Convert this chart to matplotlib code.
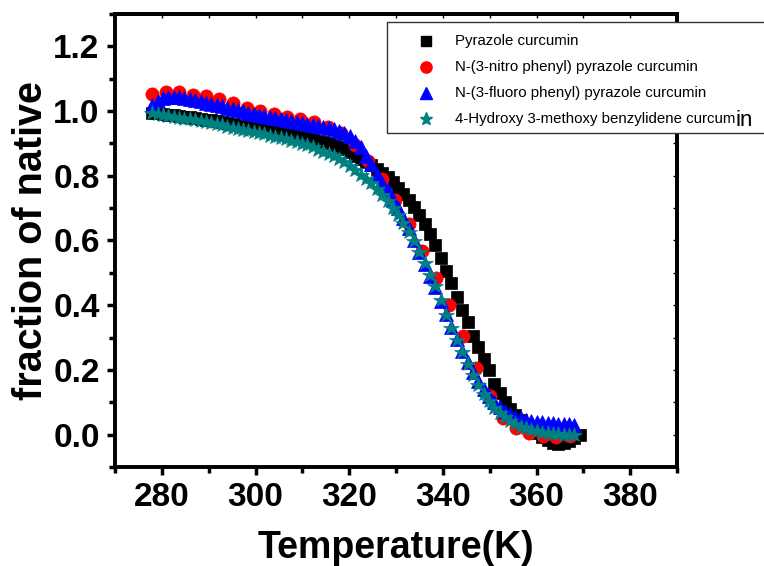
import matplotlib
matplotlib.use("Agg")
import matplotlib.pyplot as plt
from matplotlib.ticker import MultipleLocator, FormatStrFormatter
from matplotlib.patches import Rectangle
from matplotlib.lines import Line2D
from matplotlib import font_manager

names = {f.name for f in font_manager.fontManager.ttflist}
narrow = 'Liberation Sans Narrow' if 'Liberation Sans Narrow' in names else 'Liberation Sans'
plt.rcParams['font.family'] = [narrow, 'Liberation Sans', 'DejaVu Sans']

# temperature grid shared by the dense series (K)
temp = [278.0, 279.1, 280.3, 281.4, 282.6, 283.7, 284.8, 286.0, 287.1, 288.3,
        289.4, 290.5, 291.7, 292.8, 294.0, 295.1, 296.2, 297.4, 298.5, 299.7,
        300.8, 301.9, 303.1, 304.2, 305.4, 306.5, 307.6, 308.8, 309.9, 311.1,
        312.2, 313.3, 314.5, 315.6, 316.8, 317.9, 319.0, 320.2, 321.3, 322.5,
        323.6, 324.7, 325.9, 327.0, 328.2, 329.3, 330.4, 331.6, 332.7, 333.9,
        335.0, 336.1, 337.3, 338.4, 339.6, 340.7, 341.8, 343.0, 344.1, 345.3,
        346.4, 347.5, 348.7, 349.8, 351.0, 352.1, 353.2, 354.4, 355.5, 356.7,
        357.8, 358.9, 360.1, 361.2, 362.4, 363.5, 364.6, 365.8, 366.9, 368.1]
temp_black = temp + [369.2]

pyrazole = [0.995, 0.993, 0.991, 0.989, 0.987, 0.985, 0.983, 0.981, 0.978, 0.976,
            0.973, 0.971, 0.968, 0.965, 0.962, 0.959, 0.956, 0.953, 0.950, 0.947,
            0.944, 0.941, 0.938, 0.935, 0.932, 0.929, 0.926, 0.923, 0.920, 0.917,
            0.913, 0.909, 0.905, 0.901, 0.896, 0.890, 0.882, 0.872, 0.862, 0.852,
            0.842, 0.832, 0.820, 0.808, 0.795, 0.780, 0.763, 0.745, 0.726, 0.705,
            0.680, 0.652, 0.620, 0.585, 0.547, 0.507, 0.468, 0.425, 0.385, 0.348,
            0.305, 0.272, 0.235, 0.200, 0.158, 0.128, 0.100, 0.078, 0.062, 0.045,
            0.030, 0.017, 0.004, -0.008, -0.018, -0.025, -0.028, -0.027, -0.020, -0.010,
            -0.002]

temp_nitro = [277.9, 280.8, 283.7, 286.6, 289.4, 292.3, 295.2, 298.1, 301.0, 303.9,
              306.8, 309.6, 312.5, 315.4, 318.3, 321.2, 324.1, 327.0, 329.8, 332.7,
              335.6, 338.5, 341.4, 344.2, 347.1, 350.0, 352.8, 355.7, 358.5, 361.4,
              364.2, 367.1]
nitro = [1.053, 1.060, 1.058, 1.050, 1.046, 1.038, 1.025, 1.010, 1.000, 0.990,
         0.982, 0.974, 0.965, 0.952, 0.932, 0.895, 0.845, 0.790, 0.725, 0.650,
         0.568, 0.485, 0.400, 0.305, 0.205, 0.118, 0.052, 0.020, 0.004, -0.004,
         -0.006, -0.004]

fluoro = [1.020, 1.032, 1.040, 1.044, 1.044, 1.042, 1.039, 1.036, 1.033, 1.030,
          1.026, 1.023, 1.019, 1.015, 1.011, 1.007, 1.003, 0.999, 0.995, 0.991,
          0.988, 0.985, 0.982, 0.979, 0.976, 0.973, 0.970, 0.967, 0.964, 0.961,
          0.958, 0.955, 0.952, 0.948, 0.944, 0.939, 0.932, 0.922, 0.908, 0.888,
          0.862, 0.835, 0.805, 0.778, 0.755, 0.725, 0.700, 0.668, 0.640, 0.602,
          0.565, 0.528, 0.490, 0.455, 0.413, 0.372, 0.333, 0.295, 0.260, 0.225,
          0.193, 0.165, 0.140, 0.118, 0.100, 0.085, 0.073, 0.063, 0.056, 0.050,
          0.046, 0.043, 0.040, 0.038, 0.036, 0.035, 0.034, 0.033, 0.032, 0.031]

hydroxy = [0.993, 0.991, 0.988, 0.985, 0.983, 0.980, 0.977, 0.974, 0.971, 0.968,
           0.965, 0.962, 0.959, 0.956, 0.952, 0.949, 0.946, 0.942, 0.939, 0.935,
           0.932, 0.928, 0.924, 0.921, 0.917, 0.913, 0.909, 0.904, 0.899, 0.894,
           0.888, 0.881, 0.874, 0.867, 0.860, 0.852, 0.842, 0.830, 0.817, 0.803,
           0.790, 0.777, 0.760, 0.742, 0.722, 0.700, 0.680, 0.653, 0.627, 0.598,
           0.565, 0.530, 0.492, 0.458, 0.415, 0.370, 0.330, 0.292, 0.255, 0.218,
           0.185, 0.153, 0.125, 0.103, 0.082, 0.066, 0.054, 0.043, 0.033, 0.025,
           0.019, 0.014, 0.010, 0.006, 0.004, 0.002, 0.001, 0.000, 0.000, 0.000]

labels = ['Pyrazole curcumin',
          'N-(3-nitro phenyl) pyrazole curcumin',
          'N-(3-fluoro phenyl) pyrazole curcumin',
          '4-Hydroxy 3-methoxy benzylidene curcum']
colors = ['#000000', '#ff0000', '#0000ff', '#008080']
markers = ['s', 'o', '^', '*']
msizes = [8, 9.5, 9.5, 11.5]

fig = plt.figure(figsize=(7.64, 5.66), dpi=100)
ax = fig.add_axes([115 / 764, 1 - 467 / 566, 562 / 764, 453 / 566])

series = [(temp_black, pyrazole), (temp_nitro, nitro), (temp, fluoro), (temp, hydroxy)]
for (x, y), c, m, s in zip(series, colors, markers, msizes):
    ax.plot(x, y, linestyle='none', marker=m, ms=s, color=c, mec=c, mew=0.5)

ax.set_xlim(270, 390)
ax.set_ylim(-0.1, 1.3)
ax.xaxis.set_major_locator(MultipleLocator(20))
ax.xaxis.set_minor_locator(MultipleLocator(10))
ax.yaxis.set_major_locator(MultipleLocator(0.2))
ax.yaxis.set_minor_locator(MultipleLocator(0.1))
ax.yaxis.set_major_formatter(FormatStrFormatter('%.1f'))

for sp in ax.spines.values():
    sp.set_linewidth(2.8)
ax.tick_params(which='major', direction='out', length=6, width=2.5, labelsize=24, pad=5)
ax.tick_params(which='minor', direction='out', length=4, width=2.5)
for t in ax.get_xticklabels() + ax.get_yticklabels():
    t.set_fontweight('bold')

ax.set_xlabel('Temperature(K)', fontsize=27, fontweight='bold', labelpad=12)
ax.set_ylabel('fraction of native', fontsize=28.5, fontweight='bold', labelpad=2)

# small inward ticks on the top and right frame
top = ax.secondary_xaxis('top')
top.xaxis.set_major_locator(MultipleLocator(10))
top.tick_params(direction='in', length=3, width=1, labeltop=False)
top.spines['top'].set_linewidth(2.8)
right = ax.secondary_yaxis('right')
right.yaxis.set_major_locator(MultipleLocator(0.1))
right.tick_params(direction='in', length=3, width=1, labelright=False)
right.spines['right'].set_linewidth(2.8)

# legend box drawn in figure coordinates
W, H = 764, 566
fig.add_artist(Rectangle((387 / W, 1 - 133 / H), 400 / W, 111 / H,
                         transform=fig.transFigure, facecolor='white',
                         edgecolor='#333333', linewidth=1, zorder=5))
texts = []
for i, (lab, c, m, s) in enumerate(zip(labels, colors, markers, msizes)):
    yy = 1 - (41 + 26 * i) / H
    fig.add_artist(Line2D([426 / W], [yy], transform=fig.transFigure, marker=m,
                          ms=s * 0.85, color=c, mec=c, linestyle='none', zorder=6))
    texts.append(fig.text(455 / W, yy, lab, fontsize=10.8, family='Liberation Sans',
                          va='center', ha='left', zorder=6))

fig.canvas.draw()
bb = texts[3].get_window_extent()
fig.text(bb.x1 / W, 1 - (41 + 26 * 3 + 1) / H, 'in', fontsize=16,
         family='Liberation Sans', va='center', ha='left', zorder=6)

fig.savefig('out.png', dpi=100)
